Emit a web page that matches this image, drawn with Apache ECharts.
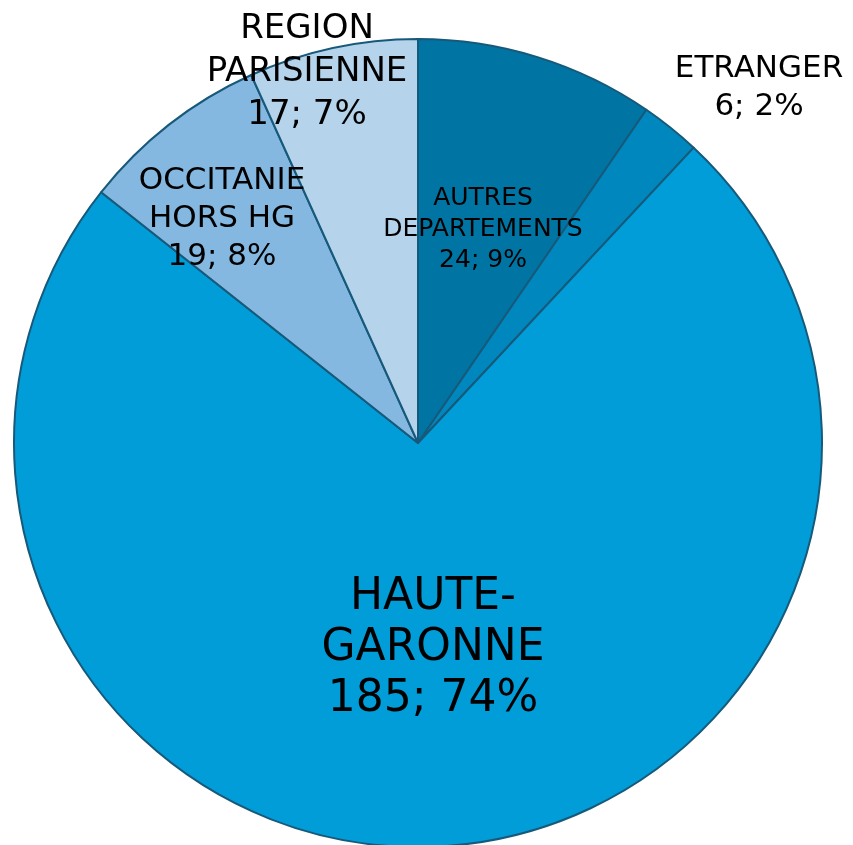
<!DOCTYPE html>
<html>
<head>
<meta charset="utf-8">
<script src="https://cdn.jsdelivr.net/npm/echarts@6/dist/echarts.min.js"></script>
<style>
  html, body { margin: 0; padding: 0; background: #fff; }
  #chart { width: 853px; height: 845px; }
</style>
</head>
<body>
<div id="chart"></div>
<script>
// data
var names = ['AUTRES\nDEPARTEMENTS', 'ETRANGER', 'HAUTE-\nGARONNE', 'OCCITANIE\nHORS HG', 'REGION\nPARISIENNE'];
var values = [24, 6, 185, 19, 17];
var percents = ['9%', '2%', '74%', '8%', '7%'];

// look
var colors = ['#0074A2', '#0088BE', '#009DD9', '#85B8E0', '#B5D3EB'];
var labelFont = [25, 31, 44, 31, 34];
var labelLine = [31, 38, 51, 38, 43];
var labelPos = [[483, 229], [759, 88], [433, 649], [222, 219], [307, 72]];

var chart = echarts.init(document.getElementById('chart'));

var pieData = [];
for (var i = 0; i < values.length; i++) {
    pieData.push({
        name: names[i],
        value: values[i],
        pct: percents[i],
        itemStyle: { color: colors[i] },
        label: { fontSize: labelFont[i], lineHeight: labelLine[i] }
    });
}

chart.setOption({
    animation: false,
    series: [{
        type: 'pie',
        center: [418, 443],
        radius: 404,
        startAngle: 90,
        clockwise: true,
        data: pieData,
        itemStyle: { borderColor: '#17597A', borderWidth: 2 },
        label: {
            show: true,
            position: 'inside',
            color: '#000',
            fontFamily: 'DejaVu Sans',
            align: 'center',
            formatter: function (p) {
                return p.name + '\n' + p.value + '; ' + p.data.pct;
            }
        },
        labelLine: { show: false },
        labelLayout: function (params) {
            var pos = labelPos[params.dataIndex];
            return { x: pos[0], y: pos[1], align: 'center', verticalAlign: 'middle' };
        },
        emphasis: { disabled: true }
    }]
});
</script>
</body>
</html>
